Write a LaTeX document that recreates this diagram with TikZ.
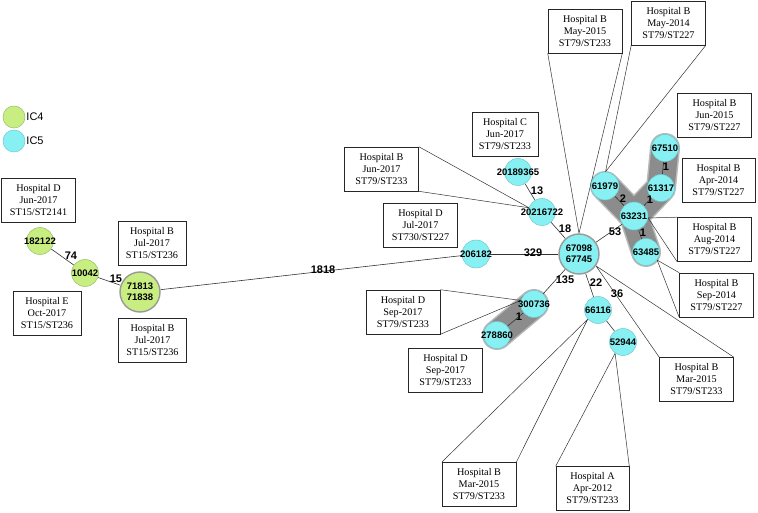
\documentclass[tikz,border=0pt]{standalone}
\usepackage{fontspec}
\setmainfont{Liberation Serif}
\setsansfont{Liberation Sans}
\definecolor{cyanf}{RGB}{135,240,242}
\definecolor{cyanb}{RGB}{110,200,205}
\definecolor{greenf}{RGB}{200,238,130}
\definecolor{greenb}{RGB}{150,190,100}
\definecolor{hlgray}{RGB}{140,140,140}
\definecolor{hlrim}{RGB}{185,185,185}
\pgfdeclarelayer{hl}
\pgfdeclarelayer{bg}
\pgfsetlayers{hl,bg,main}
\begin{document}
\begin{tikzpicture}[x=1pt,y=-1pt,
  nlab/.style={font=\sffamily\bfseries\fontsize{9.5}{11}\selectfont, align=center, inner sep=0pt},
  cfive/.style={circle, draw=cyanb, fill=cyanf, line width=0.5pt, minimum size=27pt, inner sep=0pt, label={[nlab]center:#1}},
  cfour/.style={circle, draw=greenb, fill=greenf, line width=0.5pt, minimum size=27pt, inner sep=0pt, label={[nlab]center:#1}},
  bignode/.style={minimum size=40pt, draw=black!40, line width=1.4pt},
  hbox/.style={draw=black!85, line width=0.6pt, fill=white, minimum width=74pt, minimum height=44pt, align=center, inner sep=1pt, font=\fontsize{10.2}{12}\selectfont},
  elab/.style={font=\sffamily\bfseries\fontsize{11}{12}\selectfont, inner sep=0.5pt},
  edgeline/.style={line width=0.6pt, draw=black!80},
  leader/.style={line width=0.5pt, draw=black!80},
  leglab/.style={font=\sffamily\fontsize{11}{12}\selectfont, inner sep=1pt},
  hlrimline/.style={line width=30pt, draw=hlrim, line cap=round, line join=round},
  hlline/.style={line width=27pt, draw=hlgray, line cap=round, line join=round}
]
\useasboundingbox (0,0) rectangle (758,513);

% legend
\node[circle, draw=greenb, fill=greenf, line width=0.5pt, minimum size=22pt, inner sep=0pt, label={[leglab]right:IC4}] (leg4) at (14,117) {};
\node[circle, draw=cyanb, fill=cyanf, line width=0.5pt, minimum size=22pt, inner sep=0pt, label={[leglab]right:IC5}] (leg5) at (14,141) {};

% boxes
\node[hbox] (b1) at (38.5,200.5) {Hospital D\\Jun-2017\\ST15/ST2141};
\node[hbox, minimum width=68pt] (b2) at (152,243.5) {Hospital B\\Jul-2017\\ST15/ST236};
\node[hbox, minimum width=68pt] (b3) at (47,313) {Hospital E\\Oct-2017\\ST15/ST236};
\node[hbox, minimum width=68pt] (b4) at (152.5,340) {Hospital B\\Jul-2017\\ST15/ST236};
\node[hbox] (b5) at (381.5,169) {Hospital B\\Jun-2017\\ST79/ST233};
\node[hbox, minimum width=66pt] (b6) at (505,134) {Hospital C\\Jun-2017\\ST79/ST233};
\node[hbox] (b7) at (420.5,225.5) {Hospital D\\Jul-2017\\ST730/ST227};
\node[hbox] (b8) at (403,312) {Hospital D\\Sep-2017\\ST79/ST233};
\node[hbox] (b9) at (445.5,370.5) {Hospital D\\Sep-2017\\ST79/ST233};
\node[hbox] (b10) at (479,484.5) {Hospital B\\Mar-2015\\ST79/ST233};
\node[hbox, minimum width=73pt] (b11) at (592.5,488.5) {Hospital A\\Apr-2012\\ST79/ST233};
\node[hbox] (b12) at (696.5,379.5) {Hospital B\\Mar-2015\\ST79/ST233};
\node[hbox] (b13) at (716.5,295) {Hospital B\\Sep-2014\\ST79/ST227};
\node[hbox] (b14) at (714.5,239.5) {Hospital B\\Aug-2014\\ST79/ST227};
\node[hbox, minimum width=73pt] (b15) at (718.5,180) {Hospital B\\Apr-2014\\ST79/ST227};
\node[hbox] (b16) at (714.5,115.5) {Hospital B\\Jun-2015\\ST79/ST227};
\node[hbox] (b17) at (585,31) {Hospital B\\May-2015\\ST79/ST233};
\node[hbox] (b18) at (668.5,23) {Hospital B\\May-2014\\ST79/ST227};

% nodes
\node[cfour=182122] (n182122) at (40,241) {};
\node[cfour=10042] (n10042) at (85,273) {};
\node[cfour={71813\\71838}, bignode] (n71813) at (140,292) {};
\node[cfive=206182, minimum size=28pt] (n206182) at (476,254) {};
\node[cfive=20189365] (n20189365) at (518,172) {};
\node[cfive=20216722] (n20216722) at (542,212) {};
\node[cfive={67098\\67745}, bignode] (n67098) at (579,254) {};
\node[cfive=61979, minimum size=28pt] (n61979) at (605,186) {};
\node[cfive=63231, minimum size=28pt] (n63231) at (634,216) {};
\node[cfive=61317] (n61317) at (661,188) {};
\node[cfive=67510] (n67510) at (665,148) {};
\node[cfive=63485] (n63485) at (646,252) {};
\node[cfive=66116] (n66116) at (598,310) {};
\node[cfive=52944] (n52944) at (623,342) {};
\node[cfive=300736] (n300736) at (534,304) {};
\node[cfive=278860] (n278860) at (497,335) {};

% highlights
\begin{pgfonlayer}{hl}
\draw[hlrimline] (n61979.center) -- (n63231.center) -- (n63485.center);
\draw[hlrimline] (n63231.center) -- (n61317.center) -- (n67510.center);
\draw[hlrimline] (n278860.center) -- (n300736.center);
\draw[hlline] (n61979.center) -- (n63231.center) -- (n63485.center);
\draw[hlline] (n63231.center) -- (n61317.center) -- (n67510.center);
\draw[hlline] (n278860.center) -- (n300736.center);
\end{pgfonlayer}

% edges and leaders
\begin{pgfonlayer}{bg}
\draw[edgeline] (n182122) -- (n10042);
\draw[edgeline] (n10042) -- (n71813);
\draw[edgeline] (n71813) -- (n206182);
\draw[edgeline] (n206182) -- (n67098);
\draw[edgeline] (n20189365) -- (n20216722);
\draw[edgeline] (n20216722) -- (n67098);
\draw[edgeline] (n67098) -- (n63231);
\draw[edgeline] (n67098) -- (n300736);
\draw[edgeline] (n67098) -- (n66116);
\draw[edgeline] (n66116) -- (n52944);
\draw[edgeline] (n61979) -- (n63231);
\draw[edgeline] (n63231) -- (n61317);
\draw[edgeline] (n61317) -- (n67510);
\draw[edgeline] (n63231) -- (n63485);
\draw[edgeline] (n278860) -- (n300736);

\draw[leader] (b5.north east) -- (n20216722.162) -- (b5.south east);
\draw[leader] (b8.north east) -- (n300736.165) -- (b8.south east);
\draw[leader] (b10.north west) -- (n66116.222) -- (b10.north east);
\draw[leader] (b11.north west) -- (n52944.235) -- (b11.north east);
\draw[leader] (b12.north west) -- (n67098.325) -- (b12.north east);
\draw[leader] (b13.north west) -- (n63485.324) -- (b13.south west);
\draw[leader] (b14.north west) -- (n63231.352) -- (b14.south west);
\draw[leader] (b17.south west) -- (n67098.90) -- (b17.south east);
\draw[leader] (b18.south west) -- (n61979.88) -- (b18.south east);
\end{pgfonlayer}

% edge weights
\node[elab] (w74) at (71,256) {74};
\node[elab] (w15) at (116,279) {15};
\node[elab] (w1818) at (323,270) {1818};
\node[elab] (w329) at (533,253) {329};
\node[elab] (w13) at (537,191) {13};
\node[elab] (w18) at (565,229) {18};
\node[elab] (w53) at (615,232) {53};
\node[elab] (w135) at (565,280) {135};
\node[elab] (w22) at (596,283) {22};
\node[elab] (w36) at (617,294) {36};
\node[elab] (w2) at (623,199) {2};
\node[elab] (w1a) at (650,200) {1};
\node[elab] (w1b) at (666,167) {1};
\node[elab] (w1c) at (643,233) {1};
\node[elab] (w1d) at (519,317) {1};
\end{tikzpicture}
\end{document}
